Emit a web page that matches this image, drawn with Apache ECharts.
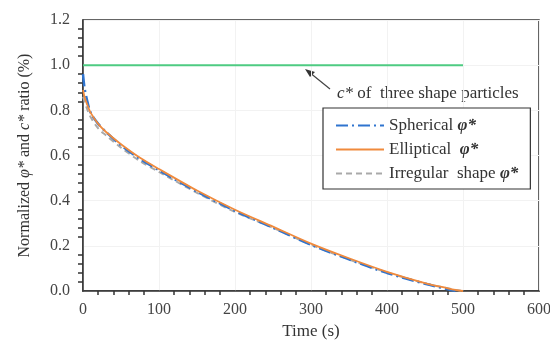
<!DOCTYPE html>
<html>
<head>
<meta charset="utf-8">
<script src="https://cdn.jsdelivr.net/npm/echarts@6/dist/echarts.min.js"></script>
<style>
  html, body { margin: 0; padding: 0; background: #fff; }
  #chart { width: 550px; height: 342px; }
</style>
</head>
<body>
<div id="chart"></div>
<script>
// time points (s)
var times = [0, 2, 5, 10, 20, 30, 50, 75, 100, 150, 200, 250, 300, 350, 400, 450, 480, 490, 500];
var spherical = [0.96, 0.90, 0.85, 0.79, 0.74, 0.705, 0.645, 0.585, 0.535, 0.44, 0.355, 0.28, 0.205, 0.14, 0.08, 0.032, 0.008, 0.0, null];
var elliptical = [0.89, 0.86, 0.83, 0.79, 0.74, 0.705, 0.65, 0.59, 0.54, 0.445, 0.36, 0.285, 0.21, 0.145, 0.085, 0.035, 0.012, 0.005, 0.0];
var irregular = [0.86, 0.84, 0.81, 0.77, 0.72, 0.69, 0.635, 0.575, 0.527, 0.435, 0.35, 0.28, 0.205, 0.14, 0.082, 0.034, 0.012, 0.005, 0.0];
var cStarX = [0, 500];
var cStar = [1.0, 1.0];

var names = ['Spherical', 'Elliptical', 'Irregular shape'];

function pairs(xs, ys) {
  var out = [];
  for (var i = 0; i < xs.length; i++) {
    if (ys[i] !== null) out.push([xs[i], ys[i]]);
  }
  return out;
}

var serif = '"Liberation Serif", "DejaVu Serif", serif';
var chart = echarts.init(document.getElementById('chart'));

var option = {
  animation: false,
  textStyle: { fontFamily: serif },
  grid: {
    left: 83, right: 11, top: 20, bottom: 51,
    outerBoundsMode: 'none',
    show: true, borderColor: '#333', borderWidth: 1.5
  },
  legend: {
    data: names,
    orient: 'vertical',
    left: 323, top: 108,
    padding: [9, 12, 7, 12],
    itemGap: 7,
    itemWidth: 48, itemHeight: 18,
    itemStyle: { opacity: 0 },
    borderColor: '#333', borderWidth: 1.2,
    backgroundColor: '#fff',
    formatter: function (n) {
      if (n === 'Irregular shape') return '{n|Irregular  shape }{i|φ*}';
      if (n === 'Elliptical') return '{n|Elliptical  }{i|φ*}';
      return '{n|Spherical }{i|φ*}';
    },
    textStyle: {
      fontFamily: serif, fontSize: 17, color: '#333',
      rich: {
        n: { fontFamily: serif, fontSize: 17, color: '#333' },
        i: { fontFamily: serif, fontSize: 17, color: '#333', fontStyle: 'italic', fontWeight: 'bold' }
      }
    }
  },
  xAxis: {
    type: 'value', min: 0, max: 600, interval: 100,
    name: 'Time (s)', nameLocation: 'middle', nameGap: 32,
    nameTextStyle: { fontFamily: serif, fontSize: 17, color: '#333' },
    axisLine: { show: true, lineStyle: { color: '#333', width: 1.5 } },
    axisTick: { show: false },
    minorTick: { show: true, inside: true, splitNumber: 5, length: 4, lineStyle: { color: '#333', width: 1.5 } },
    axisLabel: { fontFamily: serif, fontSize: 16, color: '#444', margin: 11 },
    splitLine: { show: true, lineStyle: { color: '#f2f2f2', width: 1 } }
  },
  yAxis: {
    type: 'value', min: 0, max: 1.2, interval: 0.2,
    name: '{n|Normalized }{i|φ*}{n| and }{i|c*}{n| ratio (%)}',
    nameLocation: 'middle', nameGap: 50, nameRotate: 90,
    nameTextStyle: {
      rich: {
        n: { fontFamily: serif, fontSize: 16, color: '#333' },
        i: { fontFamily: serif, fontSize: 16, color: '#333', fontStyle: 'italic' }
      }
    },
    axisLine: { show: true, lineStyle: { color: '#333', width: 1.5 } },
    axisTick: { show: false },
    minorTick: { show: true, inside: true, splitNumber: 5, length: 5, lineStyle: { color: '#333', width: 1.5 } },
    axisLabel: {
      fontFamily: serif, fontSize: 16, color: '#444', margin: 13,
      formatter: function (v) { return v.toFixed(1); }
    },
    splitLine: { show: true, lineStyle: { color: '#f2f2f2', width: 1 } }
  },
  graphic: [
    {
      type: 'text', left: 337, top: 85,
      style: {
        text: '{i|c*}{n| of  three shape particles}',
        rich: {
          n: { fontFamily: serif, fontSize: 17, fill: '#333' },
          i: { fontFamily: serif, fontSize: 17, fill: '#333', fontStyle: 'italic' }
        }
      }
    },
    {
      type: 'line', shape: { x1: 330, y1: 89, x2: 309, y2: 72 },
      style: { stroke: '#444', lineWidth: 1.2 }
    },
    {
      type: 'polygon', shape: { points: [[305, 69], [315, 72], [310, 77]] },
      style: { fill: '#333' }
    }
  ],
  series: [
    {
      name: 'c*', type: 'line', data: pairs(cStarX, cStar),
      symbol: 'none', lineStyle: { color: '#4ecb82', width: 2 }, z: 1
    },
    {
      name: 'Irregular shape', type: 'line', data: pairs(times, irregular),
      symbol: 'none', smooth: 0.3, color: '#a9a9a9',
      lineStyle: { color: '#a9a9a9', width: 2, type: [6, 4] }, z: 2
    },
    {
      name: 'Spherical', type: 'line', data: pairs(times, spherical),
      symbol: 'none', smooth: 0.3, color: '#2f74cf',
      lineStyle: { color: '#2f74cf', width: 2.5, type: [12, 4, 2, 4] }, z: 3
    },
    {
      name: 'Elliptical', type: 'line', data: pairs(times, elliptical),
      symbol: 'none', smooth: 0.3, color: '#f08a3c',
      lineStyle: { color: '#f08a3c', width: 1.8 }, z: 4
    }
  ]
};
chart.setOption(option);
</script>
</body>
</html>
